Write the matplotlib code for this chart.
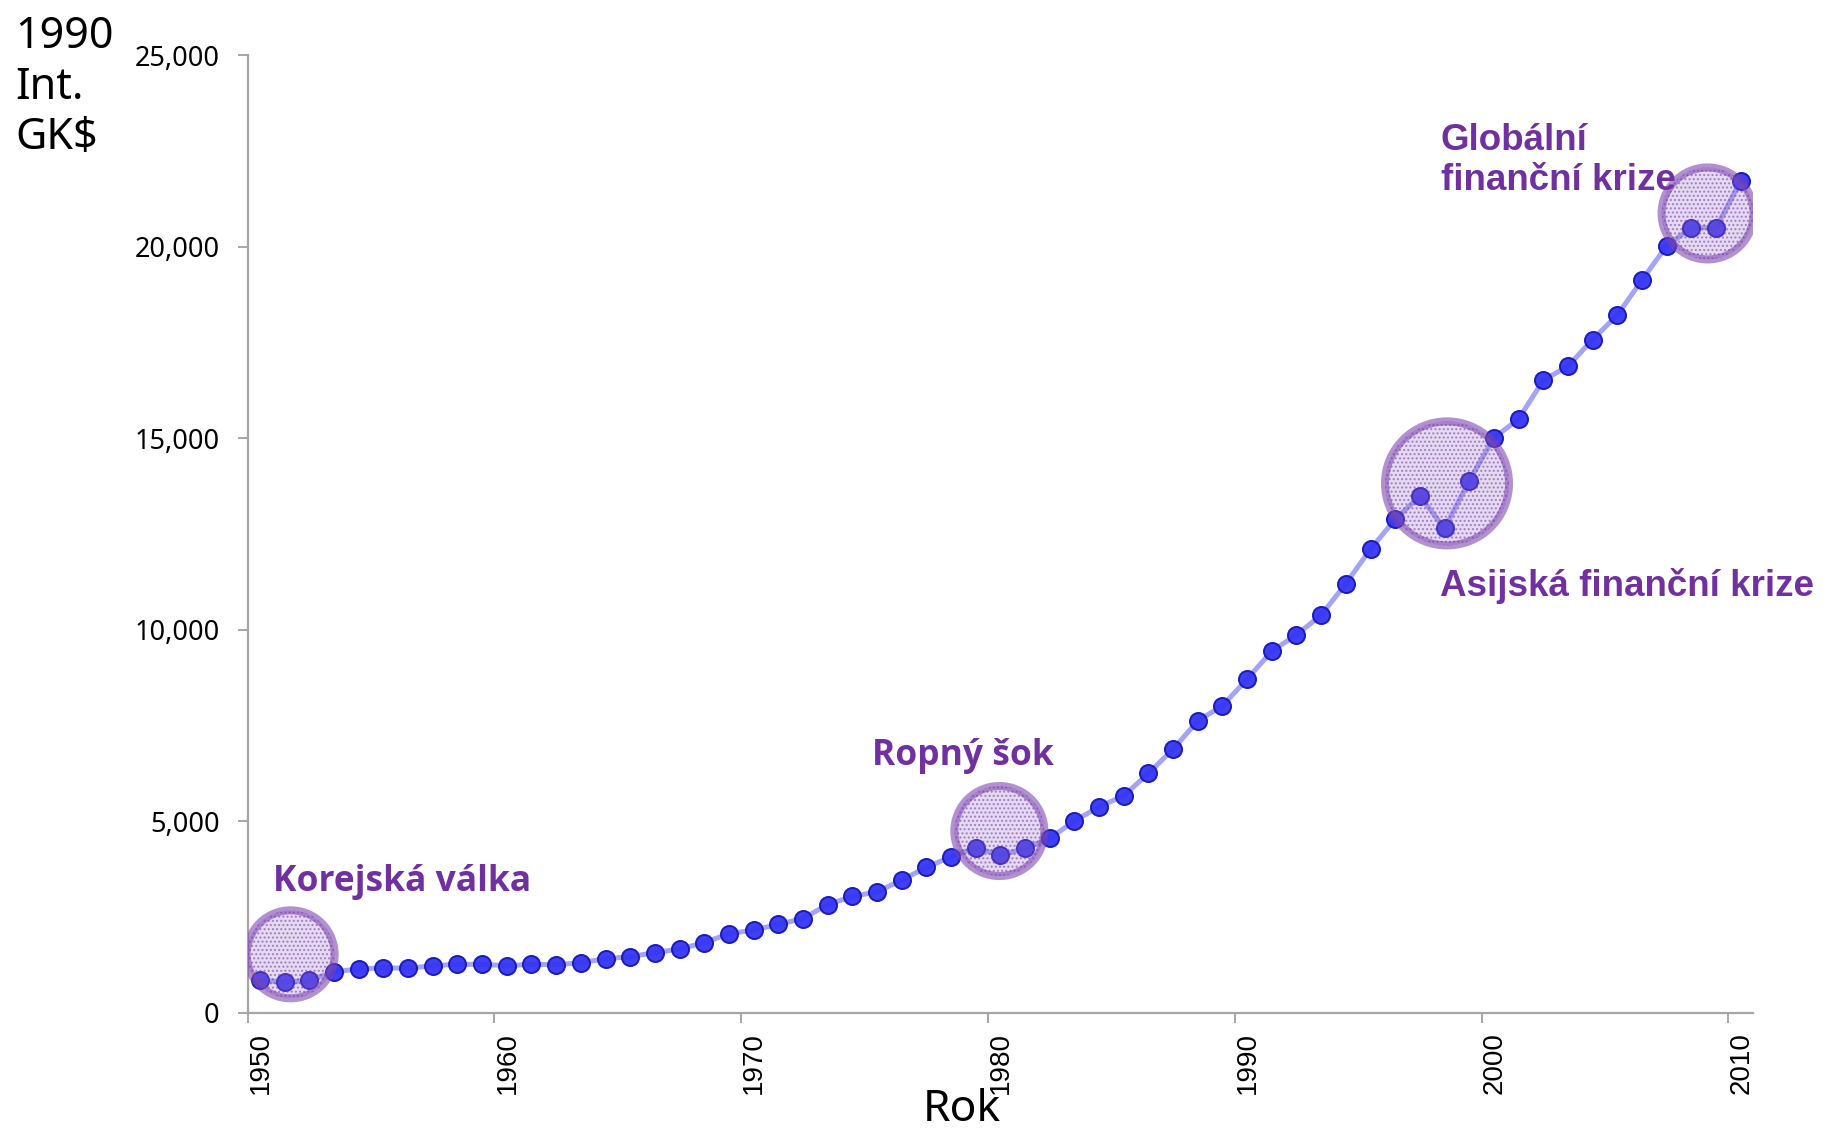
import numpy as np
import matplotlib
matplotlib.use("Agg")
import matplotlib.pyplot as plt
from matplotlib.ticker import FuncFormatter

# ---- data ----
years = list(range(1950, 2011))
gdp = [853, 793, 846, 1070, 1140, 1175, 1159, 1227, 1263, 1263,
       1227, 1263, 1254, 1305, 1409, 1462, 1566, 1663, 1827, 2064,
       2155, 2307, 2458, 2823, 3035, 3156, 3460, 3794, 4072, 4307,
       4108, 4290, 4552, 5003, 5377, 5664, 6248, 6880, 7618, 8012,
       8710, 9439, 9864, 10380, 11199, 12103, 12877, 13486, 12643, 13885,
       15008, 15496, 16510, 16874, 17573, 18210, 19123, 20019, 20489, 20489,
       21707]
x_ticks = [1950, 1960, 1970, 1980, 1990, 2000, 2010]
y_ticks = [0, 5000, 10000, 15000, 20000, 25000]

crisis_labels = ["Korejská válka", "Ropný šok", "Asijská finanční krize",
                 "Globální\nfinanční krize"]
crisis_cx = [1951.74, 1980.46, 1998.6, 2009.16]
crisis_cy = [1524, 4742, 13817, 20864]
label_x = [1951.04, 1975.3, 1998.30, 1998.34]
label_y = [3176, 6465, 10884, 21472]

# ---- figure ----
W, H, DPI = 1823, 1129, 100
fig = plt.figure(figsize=(W / DPI, H / DPI), dpi=DPI)
ax = fig.add_axes([247.7 / W, 1 - 1012.7 / H, (1753 - 247.7) / W, (1012.7 - 55) / H])

xs = np.array(years) + 0.5
ax.plot(xs, gdp, color="#a4a4f4", lw=3.6, zorder=2, solid_capstyle="round")
ax.plot(xs, gdp, ls="none", marker="o", ms=12.3, mfc="#3434f4", mec="#1616b8",
        mew=1.4, alpha=0.95, zorder=3)

# highlight circles (radius in px)
radii_px = [44, 45, 62, 46]
for cx, cy, r in zip(crisis_cx, crisis_cy, radii_px):
    d_pt = 2 * r * 72 / DPI
    ax.scatter([cx], [cy], s=d_pt ** 2, facecolor=(0.62, 0.45, 0.80, 0.26),
               edgecolor=(0.48, 0.26, 0.68, 0.58), linewidth=5.8, hatch="....",
               zorder=4)

purple = "#7030a0"
fams = [["Open Sans", "DejaVu Sans"], ["Open Sans", "DejaVu Sans"],
        ["Liberation Sans", "DejaVu Sans"], ["Liberation Sans", "DejaVu Sans"]]
sizes = [25.5, 25.5, 26.5, 26.5]
for t, lx, ly, fam, fs in zip(crisis_labels, label_x, label_y, fams, sizes):
    ax.text(lx, ly, t, color=purple, fontweight="bold", fontsize=fs,
            family=fam, ha="left", va="baseline", zorder=5, linespacing=1.2)

ax.set_xlim(1950, 2011)
ax.set_ylim(0, 25000)
ax.set_xticks(x_ticks)
ax.set_xticklabels([str(v) for v in x_ticks], rotation=90, ha="left", va="top",
                   fontsize=20, family=["Liberation Sans", "DejaVu Sans"])
ax.set_yticks(y_ticks)
ax.yaxis.set_major_formatter(FuncFormatter(lambda v, p: f"{v:,.0f}"))
for lab in ax.get_yticklabels():
    lab.set_fontfamily(["Noto Sans", "DejaVu Sans"])
    lab.set_fontsize(19.5)

for s in ["top", "right"]:
    ax.spines[s].set_visible(False)
for s in ["left", "bottom"]:
    ax.spines[s].set_color("#a6a6a6")
    ax.spines[s].set_linewidth(1.6)
ax.tick_params(axis="both", direction="out", color="#a6a6a6", width=1.4, length=7.2)
ax.tick_params(axis="y", pad=13)
ax.tick_params(axis="x", pad=7)

fig.text(15 / W, 1 - 15 / H, "1990\nInt.\nGK$", fontsize=31, va="top",
         ha="left", family=["Noto Sans", "DejaVu Sans"], linespacing=1.2)
fig.text(962 / W, 1 - 1121 / H, "Rok", fontsize=32, va="baseline", ha="center",
         family=["Noto Sans", "DejaVu Sans"])

fig.savefig("out.png", dpi=DPI)
